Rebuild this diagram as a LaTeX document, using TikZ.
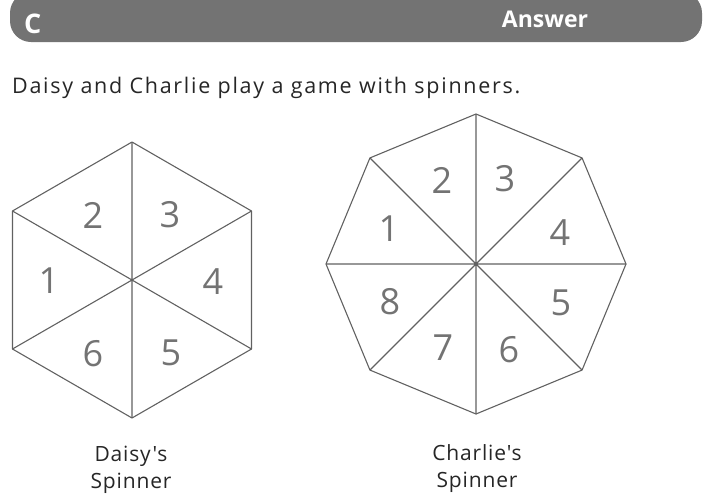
\documentclass[tikz,border=0pt]{standalone}
\usepackage{fontspec}
\usetikzlibrary{calc}
\setmainfont{Open Sans}[Ligatures=TeXOff]
\begin{document}
\begin{tikzpicture}[x=1pt,y=-1pt,
  edge/.style={draw=black!62,line width=1.1pt,line join=round},
  digit/.style={text=black!55,font=\fontsize{36}{40}\selectfont,inner sep=0pt},
  caption/.style={align=center,font=\fontsize{21}{27}\selectfont\addfontfeature{LetterSpace=4},inner sep=0pt,text=black!85}]
\useasboundingbox (0,0) rectangle (706,501);
% header bar
\begin{scope}
\clip (0,0) rectangle (706,501);
\fill[black!55,rounded corners=21pt] (10,-8) rectangle (702,42);
\end{scope}
\node[text=white,font=\bfseries\fontsize{27}{30}\selectfont,anchor=base west,inner sep=0pt] (c) at (24,33) {C};
\node[text=white,font=\bfseries\fontsize{23}{26}\selectfont,anchor=base,inner sep=0pt] (ans) at (545,27) {Answer};
% intro text
\node[anchor=base west,inner sep=0pt,font=\fontsize{21.5}{25}\selectfont\addfontfeature{LetterSpace=8},text=black!85] (intro) at (12,93) {Daisy and Charlie play a game with spinners.};
% hexagon
\coordinate (H) at (132,280);
\foreach \i in {0,...,5} \coordinate (h\i) at ($(H)+({90+60*\i}:138)$);
\draw[edge] (h0)--(h1)--(h2)--(h3)--(h4)--(h5)--cycle;
\draw[edge] (h0)--(h3) (h1)--(h4) (h2)--(h5);
\node[digit] (d2) at (93,215) {2};
\node[digit] (d3) at (170,215) {3};
\node[digit] (d1) at (49,281) {1};
\node[digit] (d4) at (213,282) {4};
\node[digit] (d6) at (93,354) {6};
\node[digit] (d5) at (171,353) {5};
% octagon
\coordinate (O) at (476,264);
\foreach \i in {0,...,7} \coordinate (o\i) at ($(O)+({90+45*\i}:150)$);
\draw[edge] (o0)--(o1)--(o2)--(o3)--(o4)--(o5)--(o6)--(o7)--cycle;
\draw[edge] (o0)--(o4) (o1)--(o5) (o2)--(o6) (o3)--(o7);
\node[digit] (e2) at (442,180) {2};
\node[digit] (e3) at (505,179) {3};
\node[digit] (e1) at (389,229) {1};
\node[digit] (e4) at (560,233) {4};
\node[digit] (e8) at (390,302) {8};
\node[digit] (e5) at (561,303) {5};
\node[digit] (e7) at (443,348) {7};
\node[digit] (e6) at (509,350) {6};
% captions
\node[caption,anchor=base] (cd) at (131,488) {Daisy's\\Spinner};
\node[caption,anchor=base] (cc) at (477,487) {Charlie's\\Spinner};
\end{tikzpicture}
\end{document}
